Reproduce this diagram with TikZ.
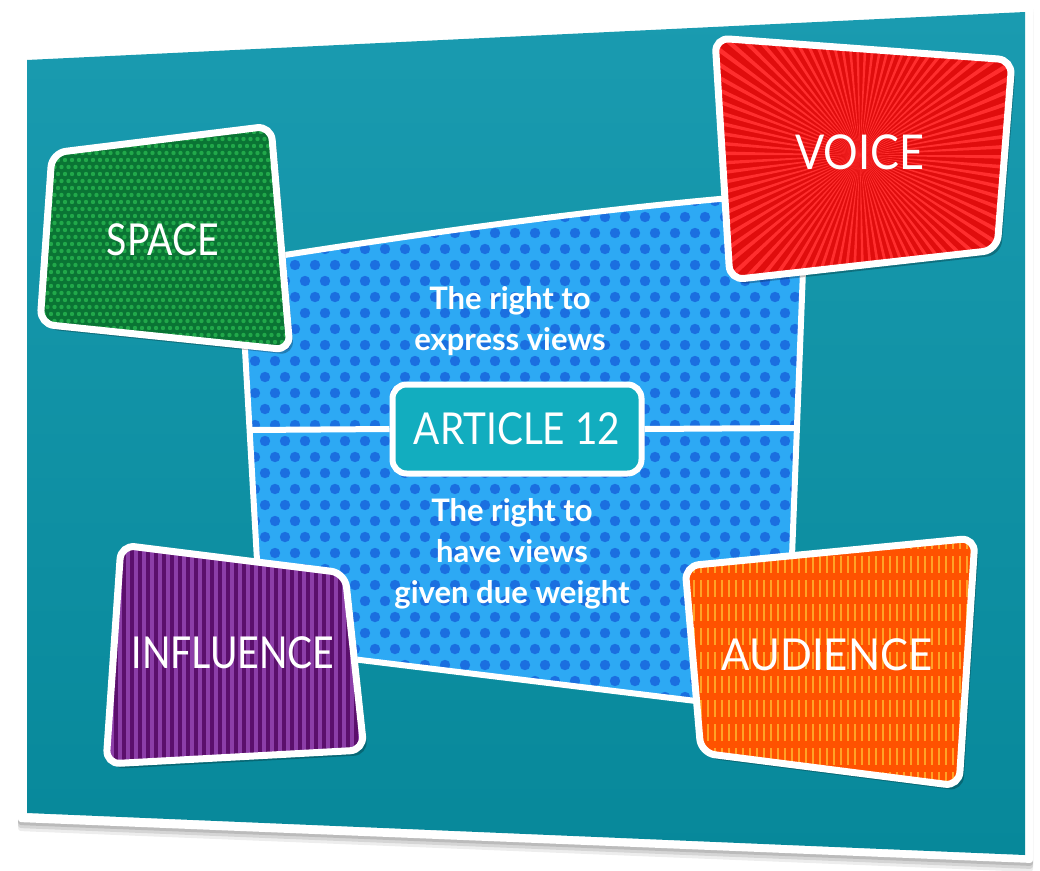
\documentclass[tikz,border=0pt]{standalone}
\usepackage{fontspec}
\setmainfont{Lato}

\definecolor{tealtop}{HTML}{1A9BB0}
\definecolor{tealbot}{HTML}{07889A}
\definecolor{bluearea}{HTML}{2DA9F4}
\definecolor{bluedot}{HTML}{1B6FE0}
\definecolor{articleteal}{HTML}{12ADBF}
\definecolor{spacegreen}{HTML}{0A7434}
\definecolor{spacedot}{HTML}{21A84A}
\definecolor{voicered}{HTML}{E00D0D}
\definecolor{voiceray}{HTML}{FF2E2E}
\definecolor{influencepurple}{HTML}{5B0F6C}
\definecolor{influencestripe}{HTML}{8C3EA8}
\definecolor{audienceorange}{HTML}{FF5200}
\definecolor{audiencedash}{HTML}{FFA226}

\begin{document}
\begin{tikzpicture}[x=1pt,y=-1pt,
  boxlabel/.style={text=white, font=\fontsize{44}{48}\selectfont, inner sep=0pt, xscale=.85},
  areatext/.style={text=white, font=\bfseries\fontsize{31}{41}\selectfont, align=center, inner sep=0pt},
  articlebox/.style={draw=white, line width=6pt, fill=articleteal, rounded corners=14pt,
    minimum width=249pt, minimum height=89pt, text=white, font=\fontsize{44}{48}\selectfont},
  cardedge/.style={draw=white, line width=7pt, rounded corners=14pt}]
\def\cardframe{(18,52) -- (1033,3) -- (1033,863) -- (18,822) -- cycle}
\def\tealpanel{(27,60) -- (1025,12) -- (1025,855) -- (27,813) -- cycle}
\def\articlearea{(240,262) .. controls (430,232) and (620,205) .. (806,192) -- (786,712) -- (262,648) -- cycle}
\def\spacebox{(52,153) -- (271,126) -- (290,350) -- (40,324) -- cycle}
\def\voicebox{(715,38) -- (1012,60) -- (997,250) -- (730,280) -- cycle}
\def\influencebox{(121,545) -- (345,573) -- (364,750) -- (106,764) -- cycle}
\def\audiencebox{(685,566) -- (975,538) -- (959,786) -- (701,753) -- cycle}

\useasboundingbox (0,0) rectangle (1040,870);

% photo card with its shadow
\foreach \s/\o in {3/.12,6/.10,9/.07}
  \fill[black, opacity=\o, rounded corners=3pt, shift={(0,\s)}] \cardframe;
\fill[white, rounded corners=3pt] \cardframe;
\shade[top color=tealtop, bottom color=tealbot] \tealpanel;

\begin{scope} % dotted middle field
\clip \articlearea;
\fill[bluearea] (200,150) rectangle (850,750);
\foreach \j in {0,...,34} \foreach \i in {0,...,30}
  \fill[bluedot] ({225+20*\i+10*mod(\j,2)},{185+16*\j}) circle (5.2);
\end{scope}
\draw[white, line width=6pt, line join=round] \articlearea;

\coordinate (divL) at (250,430);
\coordinate (divR) at (797,428);
\node[articlebox] (article) at (517,429) {\scalebox{.88}[1]{ARTICLE 12}};
\draw[white, line width=6pt] (divL) -- (article.west) (article.east) -- (divR);

\node[areatext] (express) at (510,321) {The right to\\express views};
\node[areatext] (weight) at (512,554) {The right to\\have views\\given due weight};

% SPACE
\fill[black, opacity=.25, rounded corners=14pt, shift={(4,5)}] \spacebox;
\begin{scope}
\clip[rounded corners=14pt] \spacebox;
\fill[spacegreen] (30,115) rectangle (300,360);
\foreach \j in {0,...,35} \foreach \i in {0,...,39}
  \fill[spacedot] ({30+7*\i+3.5*mod(\j,2)},{118+7*\j}) circle (2.2);
\end{scope}
\draw[cardedge] \spacebox;
\node[boxlabel] (space) at (163,240) {SPACE};

% VOICE
\fill[black, opacity=.25, rounded corners=14pt, shift={(4,5)}] \voicebox;
\begin{scope}
\clip[rounded corners=14pt] \voicebox;
\fill[voicered] (700,30) rectangle (1020,290);
\foreach \a in {0,4,...,356}
  \fill[voiceray] (860,155) -- +(\a:330) -- +({\a+1.5}:330) -- cycle;
\end{scope}
\draw[cardedge] \voicebox;
\node[boxlabel, font=\fontsize{48}{52}\selectfont, xscale=1.06] (voice) at (860,152) {VOICE};

% INFLUENCE
\fill[black, opacity=.25, rounded corners=14pt, shift={(4,5)}] \influencebox;
\begin{scope}
\clip[rounded corners=14pt] \influencebox;
\fill[influencepurple] (95,530) rectangle (375,780);
\foreach \x in {96,104,...,372}
  \draw[influencestripe, line width=3.5pt] (\x,530) -- (\x,780);
\end{scope}
\draw[cardedge] \influencebox;
\node[boxlabel] (influence) at (233,653) {INFLUENCE};

% AUDIENCE
\fill[black, opacity=.25, rounded corners=14pt, shift={(4,5)}] \audiencebox;
\begin{scope}
\clip[rounded corners=14pt] \audiencebox;
\fill[audienceorange] (675,530) rectangle (985,795);
\foreach \j in {0,...,11} \foreach \i in {0,...,43}
  \draw[audiencedash, line width=2.5pt] ({680+7*\i},{532+24*\j}) -- ++(0,17);
\end{scope}
\draw[cardedge] \audiencebox;
\node[boxlabel, xscale=1.12] (audience) at (827,655) {AUDIENCE};
\end{tikzpicture}
\end{document}
